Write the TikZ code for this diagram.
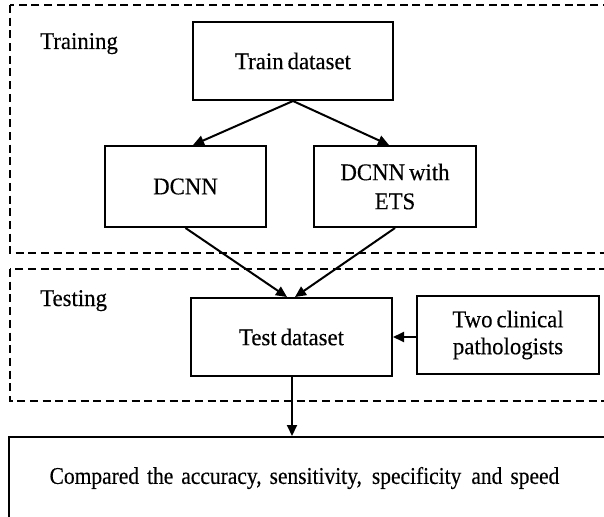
\documentclass[tikz,border=0pt]{standalone}
\usepackage{fontspec}
\setmainfont[FakeStretch=0.95,FakeBold=0.3,WordSpace=0.7]{Liberation Serif}
\newfontfamily\narrowserif[FakeStretch=0.895,FakeBold=0.3,WordSpace=0.7]{Liberation Serif}
\usetikzlibrary{arrows.meta}
\begin{document}
\begin{tikzpicture}[x=1pt,y=-1pt,
  every node/.style={font=\fontsize{24}{29}\selectfont},
  stepbox/.style={draw, line width=2pt, align=center, inner sep=0pt},
  stagebox/.style={draw, line width=2pt, dash pattern=on 8pt off 4.7pt},
  flow/.style={line width=2pt, -{Triangle[length=11pt,width=10pt]}},
  stagelabel/.style={anchor=base west, inner sep=0pt}]
\useasboundingbox (0,0) rectangle (604,516);
\clip (0,0) rectangle (604,516);
\fill[white] (0,0) rectangle (604,516);

% stage frames
\draw[stagebox] (9.5,5) rectangle (640,253);
\draw[stagebox] (9.5,269) rectangle (640,401);
\node[stagelabel] (trainlbl) at (40,49) {Training};
\node[stagelabel] (testlbl) at (40,306) {Testing};

% steps
\node[stepbox, minimum width=200pt, minimum height=78pt] (train) at (293,61) {Train dataset};
\node[stepbox, minimum width=161pt, minimum height=81pt] (dcnn) at (185.5,186.5) {DCNN};
\node[stepbox, minimum width=162pt, minimum height=81pt] (ets) at (395,186.5) {DCNN with\\ETS};
\node[stepbox, minimum width=201pt, minimum height=78pt] (test) at (291.5,337) {Test dataset};
\node[stepbox, minimum width=182pt, minimum height=78pt] (path) at (508,335) {Two clinical\\[-2pt]pathologists};
\node[stepbox, minimum width=631pt, minimum height=82pt, text width=611pt, align=left,
  font=\narrowserif\fontsize{24}{29}\selectfont] (cmp) at (324.5,478)
  {\hspace*{30.6pt}Compared the accuracy, sensitivity,\hspace{2pt} specificity\hspace{2pt} and speed};

% connectors
\draw[flow] (train.south) -- ([xshift=7.5pt]dcnn.north);
\draw[flow] (train.south) -- ([xshift=-6pt]ets.north);
\draw[flow] (dcnn.south) -- ([xshift=-4.5pt]test.north);
\draw[flow] (ets.south) -- ([xshift=3.5pt]test.north);
\draw[flow] (path.west |- test.east) -- (test.east);
\draw[flow] ([xshift=0.5pt]test.south) -- ([xshift=0.5pt]test.south |- cmp.north);
\end{tikzpicture}
\end{document}
